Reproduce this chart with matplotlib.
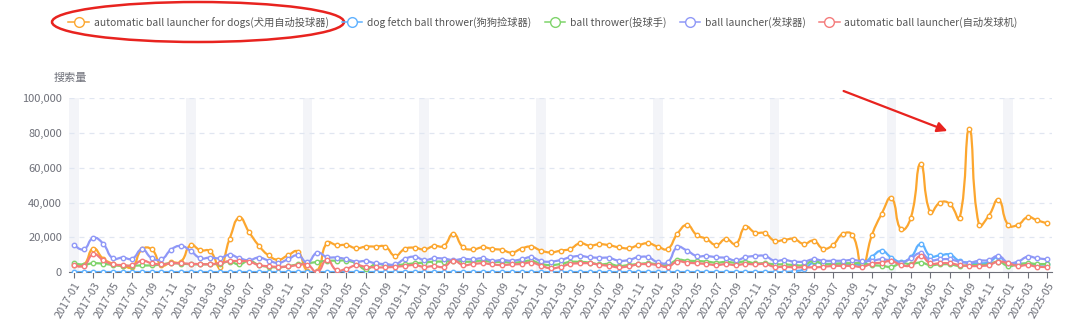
import numpy as np
import matplotlib.pyplot as plt
from matplotlib.path import Path
from matplotlib.patches import PathPatch, Ellipse, FancyArrowPatch
from matplotlib.lines import Line2D

plt.rcParams['font.family'] = ['Noto Sans CJK SC', 'DejaVu Sans']

# monthly categories 2017-01 .. 2025-05
months = [f"{y}-{m:02d}" for y in range(2017, 2026) for m in range(1, 13)][:101]

names = [
    "automatic ball launcher for dogs(犬用自动投球器)",
    "dog fetch ball thrower(狗狗捡球器)",
    "ball thrower(投球手)",
    "ball launcher(发球器)",
    "automatic ball launcher(自动发球机)",
]
colors = ["#fca62e", "#5eb1ff", "#7fd46b", "#8f98f7", "#f47b7b"]

dogs_launcher = [
    4000, 4000, 13500, 7700, 4800, 3500, 3000, 13000, 13000, 4000, 5500, 6000,
    15400, 12500, 12000, 3000, 19000, 31300, 23000, 15200, 9600, 7100, 9600, 11700,
    500, 500, 16700, 15500, 15500, 13700, 14600, 14600, 14600, 9400, 13300, 14000,
    13000, 15000, 15000, 22000, 14200, 13000, 14200, 13300, 12700, 11200, 13500, 14600,
    12300, 11300, 12300, 13300, 16500, 15200, 16000, 15400, 14200, 13700, 15400, 16500,
    14600, 13300, 21900, 27000, 21300, 19000, 15600, 19000, 16200, 26000, 22700, 22300,
    18000, 18500, 19000, 16200, 18000, 13500, 15600, 21900, 21300, 3500, 21300, 33500,
    42600, 24500, 31300, 62400, 34300, 40000, 39200, 30900, 82200, 27100, 32400, 41600,
    27100, 27200, 31500, 29700, 28000,
]
fetch_thrower = [0] * 74 + [
    500, 1500, 5500, 4800, 4800, 4800, 4600, 4500, 8800, 12200,
    8300, 5900, 8500, 16000, 9200, 9600, 10000, 6300, 5400, 5000, 5600, 8700,
    4700, 4600, 4800, 4200, 4500,
]
ball_thrower = [
    5000, 4300, 5000, 4800, 4000, 3600, 3600, 3800, 3800, 4400, 5000, 4800,
    4500, 4400, 4500, 4800, 6000, 4400, 6500, 4000, 3000, 2700, 3300, 4400,
    5000, 5800, 6400, 6500, 6500, 5000, 1500, 4600, 4000, 4000, 4400, 5000,
    5400, 6000, 6000, 6500, 6000, 6000, 6500, 5800, 5800, 5400, 5800, 6500,
    4600, 4000, 4600, 5800, 5800, 5400, 4400, 4600, 3500, 4000, 4600, 5000,
    4400, 4000, 6900, 6500, 6300, 6000, 5400, 5800, 5400, 6000, 5000, 5000,
    4400, 4400, 4000, 4000, 6500, 4600, 4600, 5000, 5000, 5000, 4000, 3600,
    3000, 5000, 4600, 5400, 4000, 4400, 4400, 3500, 4000, 4000, 4400, 6000,
    3500, 4400, 5000, 4600, 4600,
]
ball_launcher = [
    15800, 13000, 19600, 16300, 7900, 8300, 7700, 13000, 8000, 7300, 12900, 15000,
    12100, 8000, 8300, 8000, 9900, 8000, 6800, 8300, 6600, 5300, 7300, 9600,
    5600, 11100, 8600, 8300, 7400, 6000, 6300, 5000, 4600, 4400, 7500, 8800,
    6900, 7900, 7700, 6900, 7500, 7300, 7900, 6500, 6900, 6500, 7300, 8500,
    6300, 6000, 6900, 8500, 9200, 8500, 8200, 8100, 6500, 6900, 8500, 8500,
    5600, 5600, 14200, 12300, 9200, 9200, 8500, 8100, 6700, 8500, 9200, 9200,
    6500, 6900, 6000, 6000, 7300, 6500, 6500, 6500, 6900, 6300, 6500, 7300,
    6500, 5400, 7900, 10800, 6900, 7300, 7300, 6000, 5400, 6500, 6900, 9200,
    5400, 6000, 8800, 7900, 7300,
]
auto_launcher = [
    4000, 3600, 10200, 6900, 4400, 4000, 3800, 6500, 5000, 4400, 5000, 5000,
    4700, 4600, 4500, 5200, 6200, 6300, 6000, 4000, 3300, 3000, 3200, 4000,
    4200, 0, 7000, 1000, 1900, 3800, 3000, 2700, 2700, 3000, 3500, 4000,
    3000, 3400, 3000, 6500, 4000, 4600, 5000, 4400, 4000, 4400, 4600, 5400,
    3700, 2100, 3000, 4600, 5000, 5000, 4200, 3500, 2700, 3300, 4400, 4500,
    4000, 3000, 6000, 5400, 5000, 4600, 4000, 4500, 4000, 4600, 4400, 4600,
    3000, 3000, 2700, 2700, 2700, 3000, 3500, 3500, 3500, 3000, 4800, 5400,
    6300, 4000, 4000, 9200, 5000, 5000, 5000, 4000, 3500, 3500, 4000, 6000,
    5000, 3500, 4000, 3000, 3000,
]
series = [dogs_launcher, fetch_thrower, ball_thrower, ball_launcher, auto_launcher]

W, H = 1080, 326
fig = plt.figure(figsize=(W / 100, H / 100), dpi=100)
ax = fig.add_axes([69 / W, 54 / H, 983 / W, 173.7 / H])

x = np.arange(len(months))
px_x, px_y = 9.73, 0.001737  # approx pixels per unit, used for smoothing ratios


def smooth_path(xs, ys, s=0.5):
    xs = np.asarray(xs, float)
    ys = np.asarray(ys, float)
    n = len(xs)
    cin = [(xs[0], ys[0])] * n
    cout = [(xs[0], ys[0])] * n
    for i in range(n):
        if i == 0 or i == n - 1:
            cin[i] = cout[i] = (xs[i], ys[i])
            continue
        vx, vy = xs[i + 1] - xs[i - 1], ys[i + 1] - ys[i - 1]
        d0 = np.hypot((xs[i] - xs[i - 1]) * px_x, (ys[i] - ys[i - 1]) * px_y)
        d1 = np.hypot((xs[i + 1] - xs[i]) * px_x, (ys[i + 1] - ys[i]) * px_y)
        r = d1 / (d0 + d1) if d0 + d1 > 0 else 0.5
        cout[i] = (xs[i] + vx * s * r, ys[i] + vy * s * r)
        cin[i] = (xs[i] - vx * s * (1 - r), ys[i] - vy * s * (1 - r))
    verts = [(xs[0], ys[0])]
    codes = [Path.MOVETO]
    for i in range(1, n):
        verts += [cout[i - 1], cin[i], (xs[i], ys[i])]
        codes += [Path.CURVE4] * 3
    return Path(verts, codes)


# January shading bands
for i, m in enumerate(months):
    if m.endswith("-01"):
        ax.axvspan(i - 0.5, i + 0.5, color="#f3f4f8", lw=0, zorder=0)

for k, (vals, c) in enumerate(zip(series, colors)):
    ax.add_patch(PathPatch(smooth_path(x, vals), fill=False, edgecolor=c, lw=1.6, zorder=3 + k))
    ax.plot(x, vals, ls="none", marker="o", ms=3.2, mfc="white", mec=c, mew=1.0, zorder=3.5 + k)

ax.set_xlim(-0.5, len(months) - 0.5)
ax.set_ylim(0, 100000)
ax.set_yticks(range(0, 100001, 20000))
ax.set_yticklabels([f"{v:,}" for v in range(0, 100001, 20000)])
ax.grid(axis="y", color="#e0e6f1", ls=(0, (4, 4)), lw=0.9)
ax.set_axisbelow(True)
ax.set_xticks(x[::2])
ax.set_xticklabels(months[::2], rotation=60, ha="right", rotation_mode="anchor")
for s in ["top", "right", "left"]:
    ax.spines[s].set_visible(False)
ax.spines["bottom"].set_color("#6e7079")
ax.tick_params(axis="y", length=0, pad=5, labelsize=8, labelcolor="#6e7079")
ax.tick_params(axis="x", length=4, color="#6e7079", pad=2, labelsize=7.8, labelcolor="#6e7079")

fig.text(54 / W, 1 - 78 / H, "搜索量", fontsize=8, color="#6e7079", va="center")

handles = [Line2D([0], [0], color=c, lw=1.1, marker="o", ms=7, mfc="white", mec=c, mew=1.0)
           for c in colors]
fig.legend(handles, names, loc="center", bbox_to_anchor=(543 / W, 1 - 22 / H), ncol=5,
           frameon=False, fontsize=7.4, labelcolor="#555555", handlelength=2.0,
           handletextpad=0.45, columnspacing=1.3)

fig.patches.append(Ellipse((198 / W, 1 - 22 / H), 292 / W, 40 / H, transform=fig.transFigure,
                           fill=False, edgecolor="#e8231f", lw=1.8))
fig.patches.append(FancyArrowPatch((841 / W, 1 - 90 / H), (950 / W, 1 - 132 / H),
                                   transform=fig.transFigure, color="#e8231f",
                                   arrowstyle="-|>,head_length=6,head_width=3", lw=1.6))

fig.savefig("out.png", dpi=100)
